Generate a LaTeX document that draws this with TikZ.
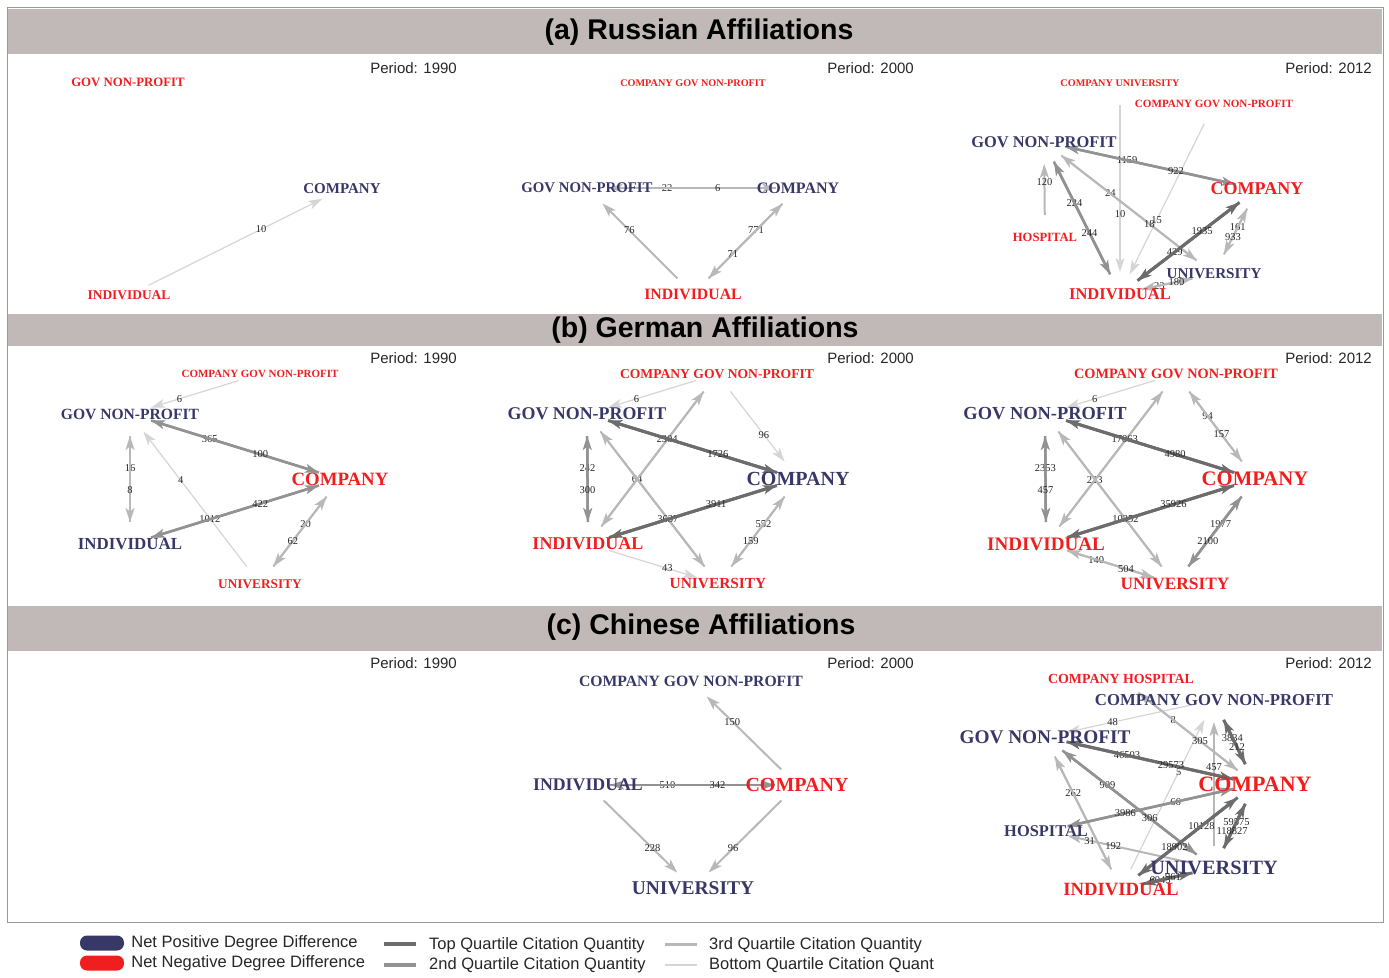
\documentclass[tikz,border=0pt]{standalone}
\usepackage{fontspec}
\setmainfont{Liberation Serif}
\newfontfamily\arialf{Liberation Sans}
\usetikzlibrary{arrows.meta,positioning,backgrounds}
\definecolor{navy}{RGB}{56,56,104}
\definecolor{redn}{RGB}{240,30,30}
\definecolor{band}{RGB}{192,185,183}
\definecolor{qa}{RGB}{108,108,110}
\definecolor{qb}{RGB}{146,146,148}
\definecolor{qc}{RGB}{184,184,186}
\definecolor{qd}{RGB}{214,212,212}
\newcommand{\fsz}[1]{\fontsize{#1}{#1}\selectfont}
\begin{document}
\begin{tikzpicture}[x=1pt,y=-1pt,
  posn/.style={text=navy,font=\bfseries\fsz{#1},inner sep=0pt},
  negn/.style={text=redn,font=\bfseries\fsz{#1},inner sep=0pt},
  ttl/.style={font=\arialf\bfseries\fsz{28.5},inner sep=0pt},
  per/.style={font=\arialf\fsz{15},text=black!85,anchor=east,inner sep=0pt},
  q1/.style={draw=qa,line width=3pt},
  q2/.style={draw=qb,line width=2.5pt},
  q3/.style={draw=qc,line width=2pt},
  q4/.style={draw=qd,line width=1.2pt},
  edg/.style={-{Stealth[length=14pt,width=9pt,inset=3.5pt]},shorten >=22pt,shorten <=22pt},
  elab/.style={font=\fsz{10.5},text=black!85,inner sep=0pt,pos=.62},
  pill/.style={rectangle,rounded corners=7pt,minimum width=44pt,minimum height=15pt,inner sep=0pt},
  lgt/.style={font=\arialf\fsz{16.5},text=black!85,inner sep=0pt,anchor=west}]
\useasboundingbox (0,0) rectangle (1389,977);
\draw[gray!80,line width=1pt] (7,7) rectangle (1383,922);
\fill[band] (8,9) rectangle (1382,54);
\fill[band] (8,314) rectangle (1382,346);
\fill[band] (8,606) rectangle (1382,651);
\node[ttl] (ta) at (699,32) {(a) Russian Affiliations};
\node[ttl] (tb) at (705,330) {(b) German Affiliations};
\node[ttl] (tc) at (701,627) {(c) Chinese Affiliations};
\node[per] (pa1) at (457,68) {Period: 1990};
\node[per] (pa2) at (914,68) {Period: 2000};
\node[per] (pa3) at (1372,68) {Period: 2012};
\node[per] (pb1) at (457,358) {Period: 1990};
\node[per] (pb2) at (914,358) {Period: 2000};
\node[per] (pb3) at (1372,358) {Period: 2012};
\node[per] (pc1) at (457,663) {Period: 1990};
\node[per] (pc2) at (914,663) {Period: 2000};
\node[per] (pc3) at (1372,663) {Period: 2012};

\node[negn=12.8] (a1gov) at (128,82) {GOV NON-PROFIT};
\node[posn=15] (a1comp) at (342,189) {COMPANY};
\node[negn=13.4] (a1ind) at (129,295) {INDIVIDUAL};

\node[negn=10.2] (a2cg) at (693,83) {COMPANY GOV NON-PROFIT};
\node[posn=14.8] (a2gov) at (587,188) {GOV NON-PROFIT};
\node[posn=16] (a2comp) at (798,188) {COMPANY};
\node[negn=15.8] (a2ind) at (693,294) {INDIVIDUAL};

\node[negn=10.2] (a3cu) at (1120,83) {COMPANY UNIVERSITY};
\node[negn=11.1] (a3cg) at (1214,104) {COMPANY GOV NON-PROFIT};
\node[posn=16.4] (a3gov) at (1044,142) {GOV NON-PROFIT};
\node[negn=18] (a3comp) at (1257,189) {COMPANY};
\node[negn=12.6] (a3hosp) at (1045,237) {HOSPITAL};
\node[posn=15.1] (a3univ) at (1214,274) {UNIVERSITY};
\node[negn=16.5] (a3ind) at (1120,294) {INDIVIDUAL};

\node[negn=11] (b1cg) at (260,374) {COMPANY GOV NON-PROFIT};
\node[posn=15.6] (b1gov) at (130,414) {GOV NON-PROFIT};
\node[negn=18.8] (b1comp) at (340,479) {COMPANY};
\node[posn=16.9] (b1ind) at (130,544) {INDIVIDUAL};
\node[negn=13.3] (b1univ) at (260,584) {UNIVERSITY};

\node[negn=13.6] (b2cg) at (717,374) {COMPANY GOV NON-PROFIT};
\node[posn=17.9] (b2gov) at (587,414) {GOV NON-PROFIT};
\node[posn=20] (b2comp) at (798,479) {COMPANY};
\node[negn=18] (b2ind) at (588,544) {INDIVIDUAL};
\node[negn=15.4] (b2univ) at (718,584) {UNIVERSITY};

\node[negn=14.3] (b3cg) at (1176,374) {COMPANY GOV NON-PROFIT};
\node[posn=18.4] (b3gov) at (1045,414) {GOV NON-PROFIT};
\node[negn=20.7] (b3comp) at (1255,479) {COMPANY};
\node[negn=19.1] (b3ind) at (1046,544) {INDIVIDUAL};
\node[negn=17.3] (b3univ) at (1175,584) {UNIVERSITY};

\node[posn=15.7] (c2cg) at (691,681) {COMPANY GOV NON-PROFIT};
\node[posn=17.8] (c2ind) at (588,785) {INDIVIDUAL};
\node[negn=20] (c2comp) at (797,785) {COMPANY};
\node[posn=19.5] (c2univ) at (693,888) {UNIVERSITY};

\node[negn=13.9] (c3ch) at (1121,679) {COMPANY HOSPITAL};
\node[posn=16.7] (c3cg) at (1214,700) {COMPANY GOV NON-PROFIT};
\node[posn=19.3] (c3gov) at (1045,737) {GOV NON-PROFIT};
\node[negn=22] (c3comp) at (1255,784) {COMPANY};
\node[posn=16.4] (c3hosp) at (1046,831) {HOSPITAL};
\node[posn=20.3] (c3univ) at (1214,868) {UNIVERSITY};
\node[negn=18.7] (c3ind) at (1121,889) {INDIVIDUAL};

\begin{pgfonlayer}{background}
\draw[q4,edg] (a1ind.center) -- node[elab]{10} (a1comp.center);

\draw[q3,edg] (a2comp.center) -- node[elab]{22} (a2gov.center);
\draw[q3,edg] (a2gov.center) -- node[elab]{6} (a2comp.center);
\draw[q3,edg] (a2ind.center) -- node[elab,pos=.6]{76} (a2gov.center);
\draw[q3,edg] (a2ind.center) -- node[elab,pos=.6]{771} (a2comp.center);
\draw[q3,edg] (a2comp.center) -- node[elab]{71} (a2ind.center);

\draw[q4,edg] (a3cu.center) -- node[elab]{10} (a3ind.center);
\draw[q4,edg] (a3cg.center) -- node[elab,pos=.61]{15} (a3ind.center);
\draw[q2,edg] (a3comp.center) -- node[elab,pos=.61]{1159} (a3gov.center);
\draw[q2,edg] (a3gov.center) -- node[elab]{922} (a3comp.center);
\draw[q2,edg] (a3ind.center) -- node[elab,pos=.6]{224} (a3gov.center);
\draw[q2,edg] (a3gov.center) -- node[elab,pos=.6]{244} (a3ind.center);
\draw[q3,edg] (a3hosp.center) -- node[elab,pos=.58]{120} (a3gov.center);
\draw[q3,edg] (a3univ.center) -- node[elab,pos=.61]{24} (a3gov.center);
\draw[q3,edg] (a3gov.center) -- node[elab]{18} (a3univ.center);
\draw[q3,edg] (a3univ.center) -- node[elab,pos=.55]{161} (a3comp.center);
\draw[q3,edg] (a3comp.center) -- node[elab,pos=.56]{933} (a3univ.center);
\draw[q3,edg] (a3univ.center) -- node[elab,pos=.58]{23} (a3ind.center);
\draw[q3,edg] (a3ind.center) -- node[elab,pos=.6]{180} (a3univ.center);
\draw[q1,edg] (a3comp.center) -- node[elab,pos=.6]{429} (a3ind.center);
\draw[q1,edg] (a3ind.center) -- node[elab,pos=.6]{1935} (a3comp.center);

\draw[q4,edg] (b1cg.center) -- node[elab]{6} (b1gov.center);
\draw[q4,edg] (b1univ.center) -- node[elab,pos=.61]{4} (b1gov.center);
\draw[q2,edg] (b1comp.center) -- node[elab]{365} (b1gov.center);
\draw[q2,edg] (b1gov.center) -- node[elab]{100} (b1comp.center);
\draw[q2,edg] (b1comp.center) -- node[elab]{1012} (b1ind.center);
\draw[q2,edg] (b1ind.center) -- node[elab]{422} (b1comp.center);
\draw[q3,edg] (b1ind.center) -- node[elab,pos=.585]{16} (b1gov.center);
\draw[q3,edg] (b1gov.center) -- node[elab,pos=.585]{8} (b1ind.center);
\draw[q3,edg] (b1univ.center) -- node[elab,pos=.57]{20} (b1comp.center);
\draw[q3,edg] (b1comp.center) -- node[elab,pos=.59]{62} (b1univ.center);

\draw[q4,edg] (b2cg.center) -- node[elab]{6} (b2gov.center);
\draw[q4,edg] (b2cg.center) -- node[elab,pos=.58]{96} (b2comp.center);
\draw[q4,edg] (b2ind.center) -- node[elab,pos=.61]{43} (b2univ.center);
\draw[q3,edg] (b2cg.center) -- node[elab]{64} (b2ind.center);
\draw[q3,edg] (b2ind.center) -- (b2cg.center);
\draw[q3,edg] (b2gov.center) -- (b2univ.center);
\draw[q3,edg] (b2univ.center) -- (b2gov.center);
\draw[q3,edg] (b2univ.center) -- node[elab,pos=.57]{552} (b2comp.center);
\draw[q3,edg] (b2comp.center) -- node[elab,pos=.59]{159} (b2univ.center);
\draw[q2,edg] (b2ind.center) -- node[elab,pos=.585]{242} (b2gov.center);
\draw[q2,edg] (b2gov.center) -- node[elab,pos=.585]{300} (b2ind.center);
\draw[q1,edg] (b2comp.center) -- node[elab]{2304} (b2gov.center);
\draw[q1,edg] (b2gov.center) -- node[elab]{1726} (b2comp.center);
\draw[q1,edg] (b2comp.center) -- node[elab]{3637} (b2ind.center);
\draw[q1,edg] (b2ind.center) -- node[elab,pos=.61]{3911} (b2comp.center);

\draw[q4,edg] (b3cg.center) -- node[elab]{6} (b3gov.center);
\draw[q3,edg] (b3comp.center) -- node[elab,pos=.6]{94} (b3cg.center);
\draw[q3,edg] (b3cg.center) -- node[elab,pos=.575]{157} (b3comp.center);
\draw[q3,edg] (b3cg.center) -- node[elab,pos=.626]{223} (b3ind.center);
\draw[q3,edg] (b3ind.center) -- (b3cg.center);
\draw[q3,edg] (b3gov.center) -- (b3univ.center);
\draw[q3,edg] (b3univ.center) -- (b3gov.center);
\draw[q3,edg] (b3univ.center) -- node[elab,pos=.61]{140} (b3ind.center);
\draw[q3,edg] (b3ind.center) -- node[elab]{504} (b3univ.center);
\draw[q2,edg] (b3ind.center) -- node[elab,pos=.585]{2353} (b3gov.center);
\draw[q2,edg] (b3gov.center) -- node[elab,pos=.585]{457} (b3ind.center);
\draw[q2,edg] (b3univ.center) -- node[elab,pos=.57]{1977} (b3comp.center);
\draw[q2,edg] (b3comp.center) -- node[elab,pos=.59]{2100} (b3univ.center);
\draw[q1,edg] (b3comp.center) -- node[elab]{17863} (b3gov.center);
\draw[q1,edg] (b3gov.center) -- node[elab]{4980} (b3comp.center);
\draw[q1,edg] (b3comp.center) -- node[elab]{10352} (b3ind.center);
\draw[q1,edg] (b3ind.center) -- node[elab,pos=.61]{35926} (b3comp.center);

\draw[q3,edg] (c2comp.center) -- node[elab,pos=.61]{150} (c2cg.center);
\draw[q3,edg] (c2ind.center) -- node[elab,pos=.615]{228} (c2univ.center);
\draw[q3,edg] (c2comp.center) -- node[elab,pos=.615]{96} (c2univ.center);
\draw[q2,edg] (c2comp.center) -- node[elab]{510} (c2ind.center);
\draw[q2,edg] (c2ind.center) -- node[elab]{342} (c2comp.center);

\draw[q4,edg] (c3cg.center) -- node[elab,pos=.6]{48} (c3gov.center);
\draw[q4,edg] (c3ind.center) -- node[elab]{5} (c3cg.center);
\draw[q3,edg] (c3comp.center) -- node[elab,pos=.61]{8} (c3ch.center);
\draw[q3,edg] (c3ch.center) -- node[elab,pos=.59]{305} (c3comp.center);
\draw[q3,edg] (c3univ.center) -- node[elab,pos=.6]{457} (c3cg.center);
\draw[q3,edg] (c3ind.center) -- node[elab,pos=.63]{262} (c3gov.center);
\draw[q3,edg] (c3gov.center) -- (c3ind.center);
\draw[q3,edg] (c3univ.center) -- node[elab,pos=.6]{192} node[elab,pos=.74]{31} (c3hosp.center);
\draw[q2,edg] (c3univ.center) -- node[elab,pos=.63]{909} (c3gov.center);
\draw[q2,edg] (c3gov.center) -- node[elab]{306} (c3univ.center);
\draw[q2,edg] (c3hosp.center) -- node[elab]{66} (c3comp.center);
\draw[q2,edg] (c3comp.center) -- node[elab]{3986} (c3hosp.center);
\draw[q1,edg] (c3comp.center) -- node[elab,pos=.55]{3834} (c3cg.center);
\draw[q1,edg] (c3cg.center) -- node[elab,pos=.56]{212} (c3comp.center);
\draw[q1,edg] (c3comp.center) -- node[elab,pos=.61]{46503} (c3gov.center);
\draw[q1,edg] (c3gov.center) -- node[elab,pos=.6]{29573} (c3comp.center);
\draw[q1,edg] (c3ind.center) -- node[elab,pos=.6]{10128} (c3comp.center);
\draw[q1,edg] (c3comp.center) -- node[elab,pos=.6]{18902} (c3ind.center);
\draw[q1,edg] (c3univ.center) -- node[elab,pos=.55]{59575} (c3comp.center);
\draw[q1,edg] (c3comp.center) -- node[elab,pos=.56]{118827} (c3univ.center);
\draw[q1,edg] (c3univ.center) -- node[elab,pos=.58]{6045} (c3ind.center);
\draw[q1,edg] (c3ind.center) -- node[elab,pos=.56]{961} (c3univ.center);
\end{pgfonlayer}

\node[pill,fill=navy] (lgpos) at (102,943) {};
\node[pill,fill=redn] (lgneg) at (102,963) {};
\node[lgt,right=7pt of lgpos] (lgpost) {Net Positive Degree Difference};
\node[lgt,right=7pt of lgneg] (lgnegt) {Net Negative Degree Difference};
\coordinate (lq1) at (384,944);
\coordinate (lq2) at (384,965);
\coordinate (lq3) at (665,944);
\coordinate (lq4) at (665,965);
\draw[q1,line width=4pt] (lq1) -- ++(32,0);
\draw[q2,line width=3.5pt] (lq2) -- ++(32,0);
\draw[q3,line width=3pt] (lq3) -- ++(32,0);
\draw[q4,line width=2pt] (lq4) -- ++(32,0);
\node[lgt] (lq1t) at (429,945) {Top Quartile Citation Quantity};
\node[lgt] (lq2t) at (429,965) {2nd Quartile Citation Quantity};
\node[lgt] (lq3t) at (709,945) {3rd Quartile Citation Quantity};
\node[lgt] (lq4t) at (709,965) {Bottom Quartile Citation Quant};
\end{tikzpicture}
\end{document}
